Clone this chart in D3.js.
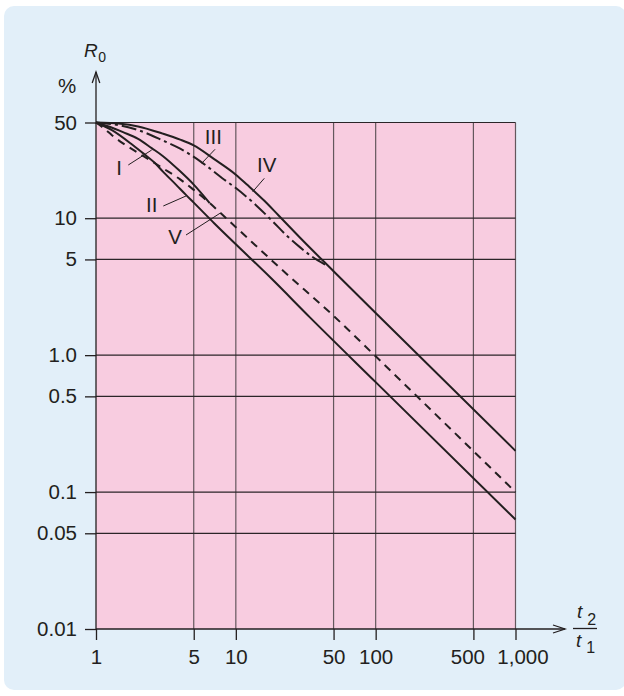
<!DOCTYPE html>
<html>
<head>
<meta charset="utf-8">
<script src="https://cdn.jsdelivr.net/npm/d3@7"></script>
<style>
  body { margin: 0; background: #fff; }
  svg { display: block; font-family: "Liberation Sans", Arial, sans-serif; }
  .tick text { font-size: 20.5px; fill: #231f20; }
</style>
</head>
<body>
<svg id="chart" width="624" height="696"></svg>
<script>
// ticks
const tickT = [1, 5, 10, 50, 100, 500, 1000];
const tickTLabels = ["1", "5", "10", "50", "100", "500", "1,000"];
const tickR = [0.01, 0.05, 0.1, 0.5, 1, 5, 10, 50];
const tickRLabels = ["0.01", "0.05", "0.1", "0.5", "1.0", "5", "10", "50"];

// curves, [t2/t1, R0 %]
const curveI = [[1, 50], [1.25, 46.5], [1.56, 42.5], [2, 38], [2.5, 32.5], [3, 28.5], [4, 22], [5, 17.6], [6.5, 12.9]];
const curveII = [[1, 50], [1.3, 44], [1.84, 34.1], [2.2, 29.5], [2.64, 25.3], [3, 22], [3.73, 17.6], [4.4, 14.8],
                 [5, 13], [7, 9.2], [10, 6.45], [17.6, 3.7], [34, 1.88], [100, 0.635], [1000, 0.063]];
const curveIII = [[1, 50], [1.5, 47.5], [2, 44], [3, 37], [4, 32.2], [5.7, 25.6], [8, 19.6], [10, 16.6], [14, 12.4],
                  [18.5, 9.4], [23, 7.5], [28.7, 6.15], [35, 5.25], [45, 4.5]];
const curveIV = [[1, 50], [1.5, 49], [2, 46.8], [3, 41.5], [4, 37.5], [5, 34], [7, 27], [10, 20.8], [12, 17.6],
                 [16, 13.4], [20, 10.6], [30, 6.9], [50, 4.1], [100, 2.03], [1000, 0.2]];
const curveV = [[1, 50], [1.15, 45], [1.3, 40.4], [1.56, 35.2], [2, 30], [2.64, 25.2], [3, 23.2], [4, 19.2], [5, 16.1],
                [6.5, 12.9], [7.7, 11], [10, 8.6], [21.4, 4.2], [51, 1.9], [100, 0.98], [1000, 0.1]];

// curve labels and their leader lines, in data units
const labelText = ["I", "II", "III", "IV", "V"];
const labelAt = [[1.461, 23.27], [2.502, 12.49], [6.9, 39.4], [16.63, 24.47], [3.673, 7.33]];
const leaderFrom = [[1.702, 24.47], [3.029, 12.28], [7.1, 31.86], [15.98, 19.56], [4.402, 7.54]];
const leaderTo = [[2.502, 31.48], [4.402, 14.53], [5.7, 25.18], [13.2, 15.62], [7.7, 10.86]];

const ink = "#231f20";
const svg = d3.select("#chart");

// panel background
svg.append("rect")
   .attr("x", 4).attr("y", 6).attr("width", 622).attr("height", 684)
   .attr("rx", 10).attr("fill", "#e2eff9");

const x = d3.scaleLog().domain([1, 1000]).range([96, 515.5]);
const y = d3.scaleLog().domain([0.01, 50]).range([629, 122.5]);

// plot area
svg.append("rect")
   .attr("x", x(1)).attr("y", y(50))
   .attr("width", x(1000) - x(1)).attr("height", y(0.01) - y(50))
   .attr("fill", "#f8cce0");

// grid
const grid = svg.append("g");
grid.selectAll(".vg").data(tickT.slice(1)).join("line")
    .attr("x1", d => x(d)).attr("x2", d => x(d))
    .attr("y1", y(0.01)).attr("y2", y(50))
    .attr("stroke", "#64575d").attr("stroke-width", 1.2);
grid.selectAll(".hg").data(tickR.slice(1)).join("line")
    .attr("x1", x(1)).attr("x2", x(1000))
    .attr("y1", d => y(d)).attr("y2", d => y(d))
    .attr("stroke", "#2b2528").attr("stroke-width", 1.2);

// axes
const xAxis = d3.axisBottom(x).tickValues(tickT)
    .tickFormat((d, i) => tickTLabels[i]).tickSize(11).tickPadding(9);
const gx = svg.append("g").attr("transform", `translate(0,${y(0.01)})`).call(xAxis);
gx.select(".domain").remove();
gx.selectAll(".tick line").attr("stroke", ink).attr("stroke-width", 1.3);
// nudge the crowded last two labels apart
gx.selectAll(".tick text").attr("dx", d => d === 500 ? -6 : d === 1000 ? 7 : 0);

const yAxis = d3.axisLeft(y).tickValues(tickR)
    .tickFormat((d, i) => tickRLabels[i]).tickSize(11).tickPadding(8);
const gy = svg.append("g").attr("transform", `translate(${x(1)},0)`).call(yAxis);
gy.select(".domain").remove();
gy.selectAll(".tick line").attr("stroke", ink).attr("stroke-width", 1.3);

// axis lines with open arrow heads
const axisG = svg.append("g").attr("fill", "none").attr("stroke", ink).attr("stroke-width", 1.3);
axisG.append("path").attr("d", `M${x(1)},${y(0.01)}V72`);
axisG.append("path").attr("d", `M${x(1) - 3.8},83L${x(1)},72L${x(1) + 3.8},83`);
axisG.append("path").attr("d", `M${x(1)},${y(0.01)}H565`);
axisG.append("path").attr("d", `M553,${y(0.01) - 4}L565,${y(0.01)}L553,${y(0.01) + 4}`);

// curves
const line = d3.line().x(d => x(d[0])).y(d => y(d[1])).curve(d3.curveMonotoneX);
const curves = [
  { data: curveII, dash: null },
  { data: curveI, dash: null },
  { data: curveV, dash: "8,6" },
  { data: curveIII, dash: "15,4,3,4" },
  { data: curveIV, dash: null }
];
svg.append("g").selectAll("path").data(curves).join("path")
   .attr("d", d => line(d.data))
   .attr("fill", "none").attr("stroke", ink).attr("stroke-width", 2)
   .attr("stroke-dasharray", d => d.dash);

// leaders and labels
const ann = svg.append("g");
ann.selectAll("line").data(labelText).join("line")
   .attr("x1", (d, i) => x(leaderFrom[i][0])).attr("y1", (d, i) => y(leaderFrom[i][1]))
   .attr("x2", (d, i) => x(leaderTo[i][0])).attr("y2", (d, i) => y(leaderTo[i][1]))
   .attr("stroke", ink).attr("stroke-width", 1);
ann.selectAll("text").data(labelText).join("text")
   .attr("x", (d, i) => x(labelAt[i][0])).attr("y", (d, i) => y(labelAt[i][1]))
   .attr("dy", "0.36em").attr("text-anchor", "middle")
   .attr("font-size", 20.5).attr("fill", ink).text(d => d);

// axis titles
const yTitle = svg.append("text").attr("x", 84).attr("y", 57).attr("fill", ink).attr("font-size", 19);
yTitle.append("tspan").attr("font-style", "italic").text("R");
yTitle.append("tspan").attr("font-size", 14).attr("dy", 5).attr("dx", 0.5).text("0");
svg.append("text").attr("x", 67).attr("y", 93).attr("text-anchor", "middle")
   .attr("fill", ink).attr("font-size", 20.5).text("%");

const frac = svg.append("g").attr("fill", ink);
const numer = frac.append("text").attr("x", 577).attr("y", 618).attr("font-size", 19);
numer.append("tspan").attr("font-style", "italic").text("t");
numer.append("tspan").attr("font-size", 16).attr("dx", 5).attr("dy", 7).text("2");
const denom = frac.append("text").attr("x", 576).attr("y", 647).attr("font-size", 19);
denom.append("tspan").attr("font-style", "italic").text("t");
denom.append("tspan").attr("font-size", 16).attr("dx", 5).attr("dy", 6).text("1");
frac.append("line").attr("x1", 573).attr("x2", 597).attr("y1", 628.5).attr("y2", 628.5)
  .attr("stroke", ink).attr("stroke-width", 1.3);
</script>
</body>
</html>
